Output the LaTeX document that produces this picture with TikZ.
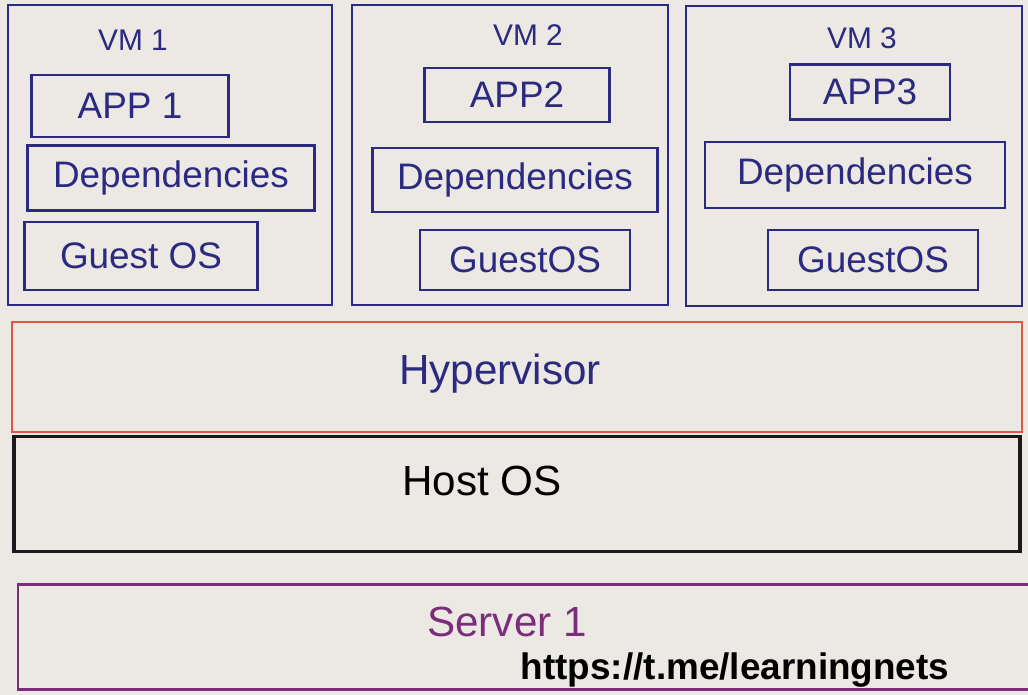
\documentclass[tikz,border=0pt]{standalone}
\usepackage{fontspec}
\setmainfont{Liberation Sans}
\usetikzlibrary{positioning}
\definecolor{paper}{HTML}{ECE8E3}
\definecolor{ink}{HTML}{2C2A80}
\definecolor{redink}{HTML}{E0574A}
\definecolor{purpleink}{HTML}{7B2D7B}
\begin{document}
\begin{tikzpicture}[x=0.02cm, y=-0.02cm,
     align=center,
     vm/.style={rectangle,draw=ink,line width=1.5pt,inner sep=0pt},
     part/.style={rectangle,draw=ink,line width=1.5pt,text=ink,inner sep=0pt,font=\fontsize{21}{25}\selectfont},
     vmname/.style={text=ink,font=\fontsize{17}{20}\selectfont},
     layer/.style={rectangle,inner sep=0pt,minimum width=20.2cm,font=\fontsize{24}{28}\selectfont}]

    \useasboundingbox[fill=paper] (0,0) rectangle (1028,695);

    % virtual machines
    \node[vm] (vm1) [minimum width=6.48cm,minimum height=6cm] at (170,155) {};
    \node[vm] (vm2) [minimum width=6.32cm,minimum height=6cm] at (510,155) {};
    \node[vm] (vm3) [minimum width=6.72cm,minimum height=6cm] at (854,156) {};

    \node[vmname] (vm1name) at (133,40) {VM 1};
    \node[vmname] (vm2name) at (528,35) {VM 2};
    \node[vmname] (vm3name) at (862,38) {VM 3};

    \node[part] (app1) [minimum width=3.94cm,minimum height=1.24cm] at (130,106) {APP 1};
    \node[part] (dep1) [minimum width=5.74cm,minimum height=1.3cm] at (171,178) {Dependencies};
    \node[part] (guest1) [minimum width=4.66cm,minimum height=1.36cm] at (141,256) {Guest OS};

    \node[part] (app2) [minimum width=3.7cm,minimum height=1.08cm] at (517,95) {APP2};
    \node[part] (dep2) [minimum width=5.7cm,minimum height=1.28cm] at (515,180) {Dependencies};
    \node[part] (guest2) [minimum width=4.2cm,minimum height=1.2cm] at (525,260) {GuestOS};

    \node[part] (app3) [minimum width=3.2cm,minimum height=1.1cm] at (870,92) {APP3};
    \node[part] (dep3) [minimum width=6cm,minimum height=1.32cm] at (855,175) {Dependencies};
    \node[part] (guest3) [minimum width=4.2cm,minimum height=1.2cm] at (873,260) {GuestOS};

    % layers below
    \node[layer,draw=redink,line width=1pt,text=ink,minimum height=2.2cm] (hypervisor) at (517,377) {};
    \node[text=ink,font=\fontsize{24}{28}\selectfont] (hypervisorname) at (500,374) {Hypervisor};
    \node[layer,draw=black!90,line width=2pt,minimum width=20.12cm,minimum height=2.3cm] (hostos) at (517,494) {};
    \node[font=\fontsize{24}{28}\selectfont] (hostosname) at (482,481) {Host OS};
    \node[layer,draw=purpleink,line width=1.3pt,minimum width=20.44cm,minimum height=2.1cm] (server) at (529,637) {};
    \node[text=purpleink,font=\fontsize{24}{28}\selectfont] (servername) at (507,622) {Server 1};

    \node[font=\bfseries\fontsize{21}{24}\selectfont] (url) at (735,670) {https://t.me/learningnets};

\end{tikzpicture}
\end{document}
